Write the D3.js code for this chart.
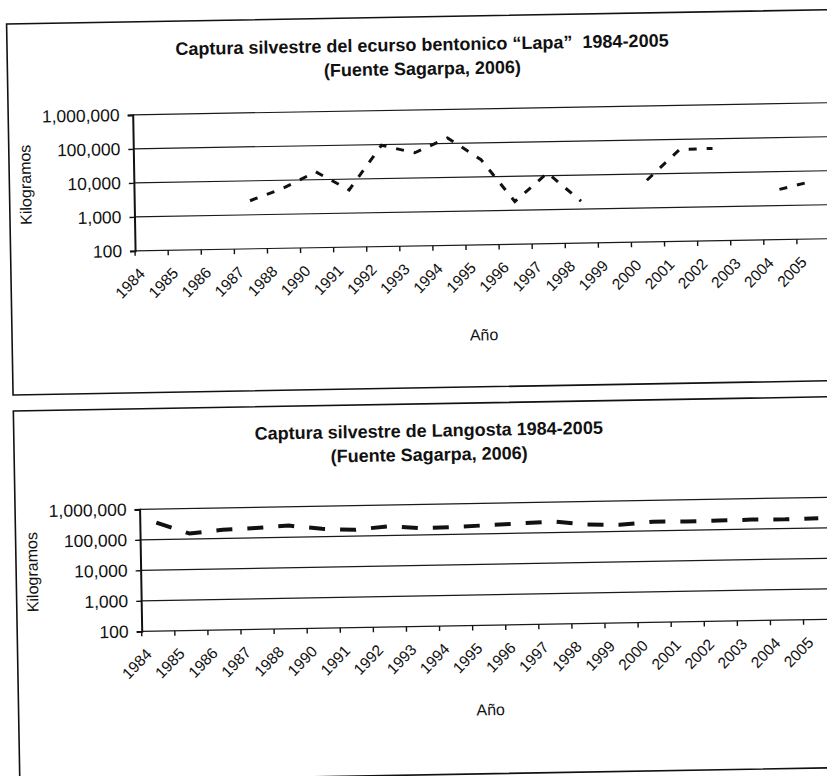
<!DOCTYPE html>
<html>
<head>
<meta charset="utf-8">
<script src="https://cdn.jsdelivr.net/npm/d3@7"></script>
<style>
  body { margin: 0; background: #fff; }
  text { font-family: "Liberation Sans", Arial, sans-serif; fill: #111; }
</style>
</head>
<body>
<div id="chart"></div>
<script>
// categories (1989 is not in the source table)
const years = ["1984", "1985", "1986", "1987", "1988", "1990", "1991", "1992", "1993", "1994",
  "1995", "1996", "1997", "1998", "1999", "2000", "2001", "2002", "2003", "2004", "2005"];

// Lapa catch, kg (null = no data)
const lapaKg = [null, null, null, 2600, 5800, 17000, 4800, 95000, 55000, 145000,
  32000, 1800, 12000, 1700, null, 6500, 50000, 52000, null, 3000, 5000];

// Langosta catch, kg
const langostaKg = [360000, 150000, 190000, 210000, 240000, 180000, 160000, 200000, 165000, 175000,
  190000, 210000, 230000, 175000, 165000, 200000, 195000, 200000, 205000, 200000, 210000];

const yTicks = [100, 1000, 10000, 100000, 1000000];

const W = 827, H = 776;

const svg = d3.select("#chart").append("svg")
  .attr("width", W)
  .attr("height", H);

svg.append("rect").attr("width", W).attr("height", H).attr("fill", "#fff");

// the scan is tilted a little, so the whole page is turned with it
const page = svg.append("g").attr("transform", "rotate(-1, 414, 388)");

const x = d3.scaleBand().domain(years).range([137.5, 832.5]);

function drawPanel(cfg) {
  const g = page.append("g");

  // frame round the chart
  g.append("rect")
    .attr("x", 13).attr("y", cfg.boxTop)
    .attr("width", 900).attr("height", cfg.boxBottom - cfg.boxTop)
    .attr("fill", "none").attr("stroke", "#111").attr("stroke-width", 1.6);

  g.append("text")
    .attr("x", 428).attr("y", cfg.titleY)
    .attr("text-anchor", "middle")
    .style("font-size", "18px").style("font-weight", "bold")
    .text(cfg.title);
  g.append("text")
    .attr("x", 428).attr("y", cfg.titleY + 24)
    .attr("text-anchor", "middle")
    .style("font-size", "18px").style("font-weight", "bold")
    .text("(Fuente Sagarpa, 2006)");

  const y = d3.scaleLog().domain([100, 1000000]).range([cfg.yBottom, cfg.yTop]);

  // gridlines
  g.append("g").selectAll("line")
    .data(yTicks)
    .join("line")
      .attr("x1", x.range()[0]).attr("x2", x.range()[1])
      .attr("y1", d => y(d)).attr("y2", d => y(d))
      .attr("stroke", "#1a1a1a").attr("stroke-width", 1.2);

  // y axis
  const yAxis = g.append("g")
    .attr("transform", `translate(${x.range()[0]},0)`)
    .call(d3.axisLeft(y).tickValues(yTicks).tickFormat(d3.format(",")).tickSize(5).tickPadding(8));
  yAxis.select(".domain").attr("stroke", "#111").attr("stroke-width", 2);
  yAxis.selectAll(".tick line").attr("stroke", "#111").attr("stroke-width", 1.4);
  yAxis.selectAll(".tick text")
    .style("font-size", "17.5px")
    .style("font-family", "Liberation Sans, Arial, sans-serif")
    .attr("fill", "#111");

  // category ticks sit between the categories
  const bounds = years.map(d => x(d)).concat([x.range()[1]]);
  g.append("g").selectAll("line")
    .data(bounds)
    .join("line")
      .attr("x1", d => d).attr("x2", d => d)
      .attr("y1", cfg.yBottom).attr("y2", cfg.yBottom + 5)
      .attr("stroke", "#111").attr("stroke-width", 1.4);

  g.append("g").selectAll("text")
    .data(years)
    .join("text")
      .attr("transform", d => `translate(${x(d) + x.bandwidth() / 2 - 6},${cfg.yBottom + 24}) rotate(-45)`)
      .attr("text-anchor", "end")
      .style("font-size", "15.5px")
      .text(d => d);

  g.append("text")
    .attr("x", (x.range()[0] + x.range()[1]) / 2)
    .attr("y", cfg.anoY)
    .attr("text-anchor", "middle")
    .attr("dy", "0.35em")
    .style("font-size", "16px")
    .text("Año");

  g.append("text")
    .attr("transform", `translate(29,${(cfg.yTop + cfg.yBottom) / 2}) rotate(-90)`)
    .attr("text-anchor", "middle")
    .attr("dy", "0.35em")
    .style("font-size", "16px")
    .text("Kilogramos");

  const line = d3.line()
    .defined(d => d[1] != null)
    .x(d => x(d[0]) + x.bandwidth() / 2)
    .y(d => y(d[1]));

  g.append("path")
    .datum(years.map((d, i) => [d, cfg.values[i]]))
    .attr("fill", "none")
    .attr("stroke", "#111")
    .attr("stroke-width", cfg.lineWidth)
    .attr("stroke-dasharray", cfg.dash)
    .attr("d", line);
}

drawPanel({
  title: "Captura silvestre del ecurso bentonico \u201cLapa\u201d\u00a0 1984-2005",
  values: lapaKg,
  boxTop: 17, boxBottom: 388,
  titleY: 51,
  yTop: 110, yBottom: 246,
  anoY: 336,
  dash: "8,10", lineWidth: 3
});

drawPanel({
  title: "Captura silvestre de Langosta 1984-2005",
  values: langostaKg,
  boxTop: 404, boxBottom: 775,
  titleY: 437,
  yTop: 504.5, yBottom: 626.5,
  anoY: 711,
  dash: "16,15", lineWidth: 4
});
</script>
</body>
</html>
